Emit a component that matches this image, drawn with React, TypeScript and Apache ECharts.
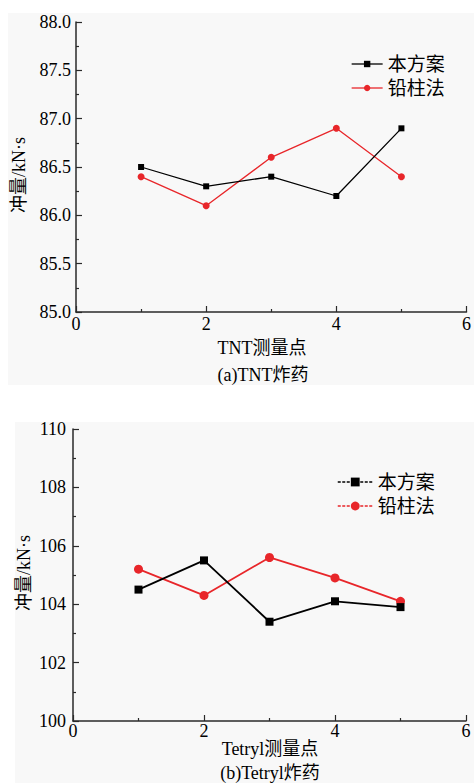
import React, { useEffect, useRef } from "react";
import * as echarts from "echarts";

const xPoints = [1, 2, 3, 4, 5];
const seriesNames = ["本方案", "铅柱法"];
const tntScheme = [86.5, 86.3, 86.4, 86.2, 86.9];
const tntLead = [86.4, 86.1, 86.6, 86.9, 86.4];
const tetrylScheme = [104.5, 105.5, 103.4, 104.1, 103.9];
const tetrylLead = [105.2, 104.3, 105.6, 104.9, 104.1];
const xAxisNames = ["TNT测量点", "Tetryl测量点"];
const captions = ["(a)TNT炸药", "(b)Tetryl炸药"];
const yAxisName = "冲量/kN·s";

const FONT = "'Liberation Serif', 'Noto Sans CJK SC', serif";
const RED = "#e8262a";
const BLACK = "#000000";
const AXIS = "#2a2a2a";
const TEXT = "#000000";

const pairs = (ys: number[]) => xPoints.map((x, i) => [x, ys[i]]);

export default function App() {
  const ref = useRef<HTMLDivElement>(null);
  useEffect(() => {
    document.body.style.margin = "0";
    const chart = echarts.init(ref.current!, null, { renderer: "svg" });

    const xAxisBase = (gridIndex: number, labelMargin: number) => ({
      type: "value",
      gridIndex,
      min: 0,
      max: 6,
      interval: 2,
      axisLine: { show: true, onZero: false, lineStyle: { color: AXIS, width: 1.5 } },
      axisTick: { show: true, inside: true, length: 6, lineStyle: { color: AXIS, width: 1.2 } },
      minorTick: { show: true, splitNumber: 2, length: 3, lineStyle: { color: AXIS, width: 1.2 } },
      splitLine: { show: false },
      axisLabel: { fontFamily: FONT, fontSize: 18, color: TEXT, margin: labelMargin, showMaxLabel: true, showMinLabel: true },
    });

    const yAxisBase = (gridIndex: number, min: number, max: number, interval: number, digits: number, margin: number) => ({
      type: "value",
      gridIndex,
      min,
      max,
      interval,
      axisLine: { show: true, onZero: false, lineStyle: { color: AXIS, width: 1.5 } },
      axisTick: { show: true, inside: true, length: 6, lineStyle: { color: AXIS, width: 1.2 } },
      minorTick: { show: true, splitNumber: 2, length: 3, lineStyle: { color: AXIS, width: 1.2 } },
      splitLine: { show: false },
      axisLabel: {
        fontFamily: FONT,
        fontSize: 18,
        color: TEXT,
        margin,
        formatter: (v: number) => v.toFixed(digits),
      },
    });

    const lineSeries = (name: string, data: number[], idx: number, symbol: string, size: number, color: string, width: number) => ({
      type: "line",
      name,
      xAxisIndex: idx,
      yAxisIndex: idx,
      data: pairs(data),
      symbol,
      symbolSize: size,
      showAllSymbol: true,
      itemStyle: { color },
      lineStyle: { color, width },
      z: symbol === "rect" ? 3 : 2,
    });

    const legendText = { fontFamily: FONT, fontSize: 19, color: TEXT, lineHeight: 20 };
    const textEl = (x: number, y: number, text: string, rotate = false) => ({
      type: "text",
      x,
      y,
      rotation: rotate ? Math.PI / 2 : 0,
      style: { text, font: `18px ${FONT}`, fill: TEXT, textAlign: "center", textVerticalAlign: "middle" },
    });

    chart.setOption({
      animation: false,
      backgroundColor: "#ffffff",
      grid: [
        { left: 76, top: 22, width: 392, height: 290 },
        { left: 73, top: 429, width: 393, height: 292 },
      ],
      xAxis: [xAxisBase(0, 3), xAxisBase(1, 1)],
      yAxis: [yAxisBase(0, 85, 88, 0.5, 1, 5), yAxisBase(1, 100, 110, 2, 0, 7)],
      legend: [
        {
          orient: "vertical",
          left: 351,
          top: 54,
          padding: 0,
          itemWidth: 31,
          itemHeight: 8,
          itemGap: 4,
          textStyle: legendText,
          data: [
            { name: seriesNames[0], itemStyle: { color: BLACK }, lineStyle: { color: BLACK, width: 1.3 } },
            { name: seriesNames[1], itemStyle: { color: RED }, lineStyle: { color: RED, width: 1.3 } },
          ],
        },
        {
          orient: "vertical",
          left: 337,
          top: 472,
          padding: 0,
          itemWidth: 35,
          itemHeight: 11,
          itemGap: 4,
          textStyle: legendText,
          data: [
            { name: seriesNames[0], itemStyle: { color: BLACK }, lineStyle: { color: BLACK, width: 1.5, type: [3, 1.5] } },
            { name: seriesNames[1], itemStyle: { color: RED }, lineStyle: { color: RED, width: 1.5, type: [3, 1.5] } },
          ],
        },
      ],
      series: [
        lineSeries(seriesNames[0], tntScheme, 0, "rect", 6, BLACK, 1.3),
        lineSeries(seriesNames[1], tntLead, 0, "circle", 7, RED, 1.3),
        lineSeries(seriesNames[0], tetrylScheme, 1, "rect", 8, BLACK, 1.8),
        lineSeries(seriesNames[1], tetrylLead, 1, "circle", 9, RED, 1.8),
      ],
      graphic: [
        { type: "rect", z: -10, silent: true, shape: { x: 8, y: 13, width: 466, height: 372 }, style: { fill: "#f8f8f8" } },
        { type: "rect", z: -10, silent: true, shape: { x: 15, y: 422, width: 459, height: 361 }, style: { fill: "#f8f8f8" } },
        textEl(18.5, 175, yAxisName, true),
        textEl(24, 573, yAxisName, true),
        textEl(262, 348, xAxisNames[0]),
        textEl(270, 749, xAxisNames[1]),
        textEl(263, 375, captions[0]),
        textEl(270, 773, captions[1]),
      ],
    });
    return () => chart.dispose();
  }, []);
  return <div ref={ref} style={{ width: 474, height: 783 }} />;
}
